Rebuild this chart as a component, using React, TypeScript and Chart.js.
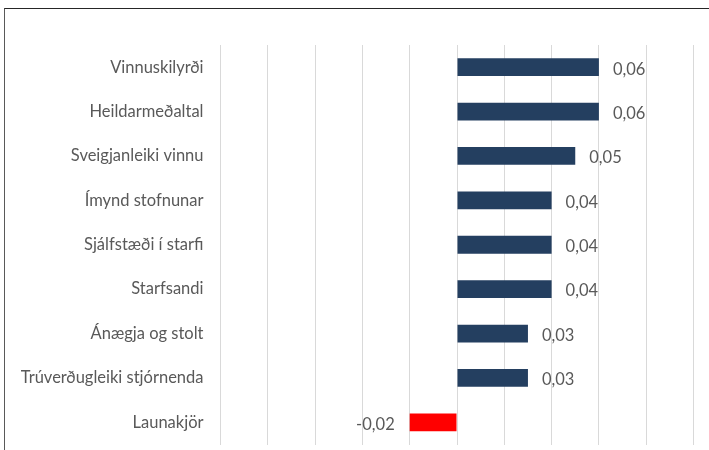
import React, { useEffect, useRef } from "react";
import { Chart, registerables } from "chart.js";

Chart.register(...registerables);

const categories = [
  "Vinnuskilyrði",
  "Heildarmeðaltal",
  "Sveigjanleiki vinnu",
  "Ímynd stofnunar",
  "Sjálfstæði í starfi",
  "Starfsandi",
  "Ánægja og stolt",
  "Trúverðugleiki stjórnenda",
  "Launakjör",
];
const values = [0.06, 0.06, 0.05, 0.04, 0.04, 0.04, 0.03, 0.03, -0.02];
const axisMin = -0.1;
const axisMax = 0.1;
const axisStep = 0.02;

const FONT = "Lato, 'Open Sans', sans-serif";
const TEXT = "#595959";
const FONT_SIZE = 16.5;

const valueLabels = {
  id: "valueLabels",
  afterDatasetsDraw(chart: any) {
    const ctx = chart.ctx;
    const meta = chart.getDatasetMeta(0);
    ctx.save();
    ctx.font = `${FONT_SIZE}px ${FONT}`;
    ctx.fillStyle = TEXT;
    ctx.textBaseline = "middle";
    meta.data.forEach((bar: any, i: number) => {
      const v = values[i];
      const txt = v.toFixed(2).replace(".", ",");
      if (v >= 0) {
        ctx.textAlign = "left";
        ctx.fillText(txt, bar.x + 14, bar.y + 2);
      } else {
        ctx.textAlign = "right";
        ctx.fillText(txt, bar.x - 15, bar.y + 2);
      }
    });
    ctx.restore();
  },
};

export default function App() {
  const ref = useRef<HTMLCanvasElement>(null);
  useEffect(() => {
    const chart = new Chart(ref.current!, {
      type: "bar",
      data: {
        labels: categories,
        datasets: [
          {
            data: values,
            backgroundColor: values.map((v) => (v < 0 ? "#FF0000" : "#243F60")),
            barPercentage: 0.4,
            categoryPercentage: 1,
          },
        ],
      },
      options: {
        indexAxis: "y",
        animation: false,
        responsive: false,
        maintainAspectRatio: false,
        layout: { padding: { top: 45, right: 15.5, bottom: 5.5, left: 0 } },
        plugins: { legend: { display: false }, tooltip: { enabled: false } },
        scales: {
          x: {
            min: axisMin,
            max: axisMax,
            ticks: { display: false, stepSize: axisStep },
            grid: { color: "#D9D9D9", lineWidth: 1, drawTicks: false },
            border: { display: false },
            afterFit: (s: any) => {
              s.height = 0;
            },
          },
          y: {
            ticks: {
              color: TEXT,
              font: { family: FONT, size: FONT_SIZE },
              padding: 17,
            },
            grid: { display: false, drawTicks: false },
            border: { display: false },
            afterFit: (s: any) => {
              s.width = 220.5;
              s.paddingTop = 0;
              s.paddingBottom = 0;
            },
          },
        },
      },
      plugins: [valueLabels],
    });
    return () => chart.destroy();
  }, []);
  return (
    <div style={{ position: "fixed", left: 0, top: 0, width: 709, height: 450, background: "#fff", overflow: "hidden" }}>
      <canvas ref={ref} width={709} height={450} style={{ position: "absolute", left: 0, top: 0 }} />
      <div
        style={{
          position: "absolute",
          left: 4,
          top: 8,
          width: 800,
          height: 600,
          borderTop: "1.5px solid #262626",
          borderLeft: "1px solid #595959",
          pointerEvents: "none",
        }}
      />
    </div>
  );
}
